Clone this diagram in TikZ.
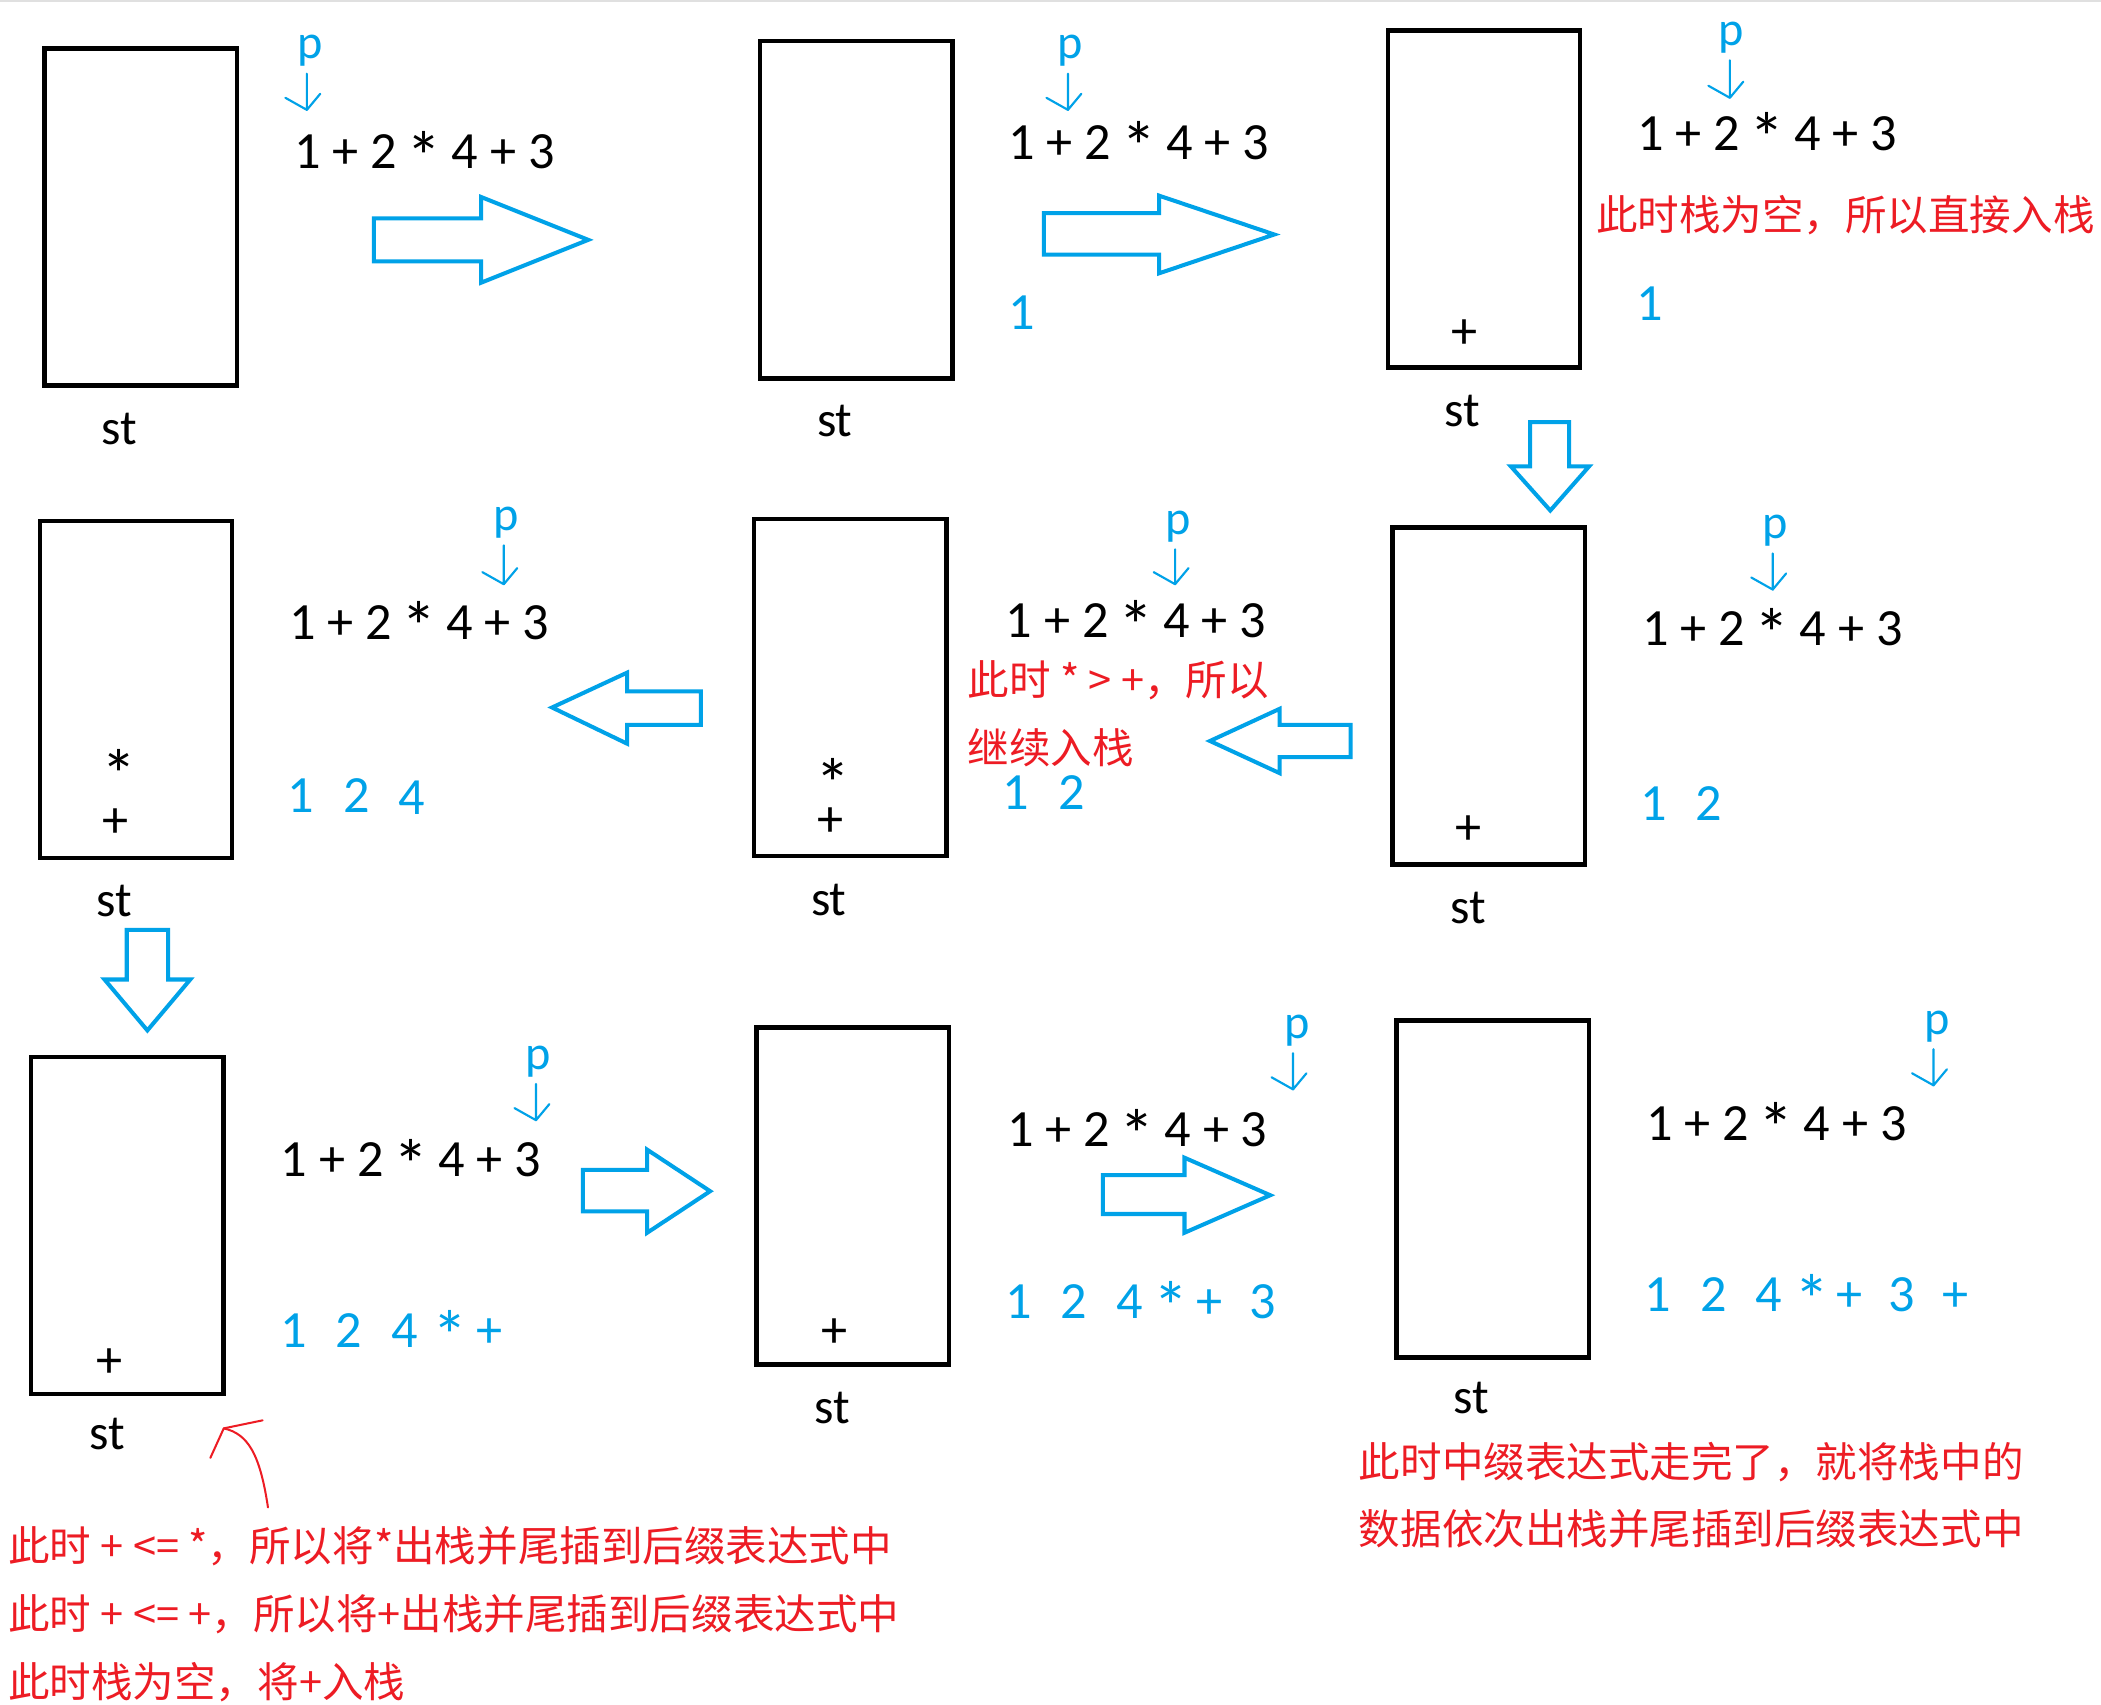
\documentclass[tikz,border=0pt]{standalone}
\usepackage{fontspec}
\usepackage{graphicx}
\setmainfont{Carlito}
\newfontfamily\cjk{Noto Sans CJK SC}
\usetikzlibrary{calc}
\definecolor{pblue}{RGB}{0,162,232}
\definecolor{pred}{RGB}{237,28,36}
\newcommand\bigast{\makebox[0.6em]{\raisebox{-0.24em}[0.66em][0pt]{\scalebox{1.35}{*}}}}
\tikzset{
  stackbox/.style={draw=black, line width=3.4pt, minimum width=143.6pt, minimum height=251.6pt, inner sep=0pt},
  expr/.style={anchor=base west, inner sep=0pt, font=\fontsize{39}{47}\selectfont},
  sym/.style={anchor=base, inner sep=0pt, font=\fontsize{39}{47}\selectfont},
  stlabel/.style={anchor=base, inner sep=0pt, font=\fontsize{37}{44}\selectfont},
  plabel/.style={anchor=base, inner sep=0pt, text=pblue, font=\fontsize{36}{43}\selectfont},
  outsym/.style={sym, text=pblue},
  note/.style={anchor=base west, inner sep=0pt, text=pred, font=\cjk\fontsize{31}{37}\selectfont},
  parrow/.style={draw=pblue, line width=1.6pt, line cap=round, line join=round},
  blockarrow/.style={draw=pblue, line width=3pt, line join=miter},
  redarrow/.style={draw=pred, line width=1.5pt, line cap=round, line join=round},
}
% horizontal block arrow: shaft end x, shaft top, shaft bottom, head base x, head top, head bottom, tip x, tip y
\newcommand\myHArrow[8]{\draw[blockarrow] (#1,#2) -- (#4,#2) -- (#4,#5) -- (#7,#8) -- (#4,#6) -- (#4,#3) -- (#1,#3) -- cycle;}
% vertical block arrow: shaft left x, shaft right x, shaft top, head y, head left x, head right x, tip x, tip y
\newcommand\myVArrow[8]{\draw[blockarrow] (#1,#3) -- (#2,#3) -- (#2,#4) -- (#6,#4) -- (#7,#8) -- (#5,#4) -- (#1,#4) -- cycle;}
\newcommand\myExpr{1 + 2 \bigast{} 4 + 3}
\begin{document}
\begin{tikzpicture}[x=1pt,y=-1pt]
\useasboundingbox[fill=white] (0,0) rectangle (1568,1272);
\draw[black!12, line width=1.5pt] (0,1) -- (1568,1);

% ---------- stacks ----------
\node[stackbox] (s1) at (105,162) {};
\node[stackbox] (s2) at (639,156.5) {};
\node[stackbox] (s3) at (1107.5,148.5) {};
\node[stackbox] (s4) at (101.5,514.5) {};
\node[stackbox] (s5) at (634.5,513) {};
\node[stackbox] (s6) at (1111,519.5) {};
\node[stackbox] (s7) at (95,914.5) {};
\node[stackbox] (s8) at (636.5,892.5) {};
\node[stackbox] (s9) at (1114,887.5) {};

% st labels
\node[stlabel] (l1) at (89,332) {st};
\node[stlabel] (l2) at (623,326) {st};
\node[stlabel] (l3) at (1091.5,318) {st};
\node[stlabel] (l4) at (85.5,684) {st};
\node[stlabel] (l5) at (618.5,683) {st};
\node[stlabel] (l6) at (1095.5,689) {st};
\node[stlabel] (l7) at (80,1082) {st};
\node[stlabel] (l8) at (621,1062) {st};
\node[stlabel] (l9) at (1098,1055) {st};

% stack contents
\node[sym] (c3a) at (1093,260) {+};
\node[sym] (c4b) at (88.5,587) {\bigast};
\node[sym] (c4a) at (86.5,625) {+};
\node[sym] (c5b) at (621.5,594) {\bigast};
\node[sym] (c5a) at (620,624) {+};
\node[sym] (c6a) at (1096,630) {+};
\node[sym] (c7a) at (82,1028) {+};
\node[sym] (c8a) at (623,1006) {+};

% ---------- expressions ----------
\node[expr] (e1) at (219.5,126) {\myExpr};
\node[expr] (e2) at (752.5,119) {\myExpr};
\node[expr] (e3) at (1221.5,112) {\myExpr};
\node[expr] (e4) at (215.5,477) {\myExpr};
\node[expr] (e5) at (750.5,476) {\myExpr};
\node[expr] (e6) at (1225.5,482) {\myExpr};
\node[expr] (e7) at (209.5,878) {\myExpr};
\node[expr] (e8) at (751.5,856) {\myExpr};
\node[expr] (e9) at (1228.5,851) {\myExpr};

% ---------- p pointers ----------
\foreach \i/\px/\pb/\tx/\ty in {1/231.5/44/229/82, 2/799/44/797/82, 3/1292/34/1291/73,
  4/377.5/396/376/436, 5/879/399/877/436, 6/1324.5/402/1323/440,
  7/402/798/400/836, 8/968/775/965/813, 9/1445.5/772/1443/810}{
  \node[plabel] (p\i) at (\px,\pb) {p};
  \coordinate (t\i) at (\tx,\ty);
  \draw[parrow] ($(p\i.south -| t\i)+(0,5)$) -- (t\i) -- ++(-16,-9) (t\i) -- ++(10,-12);
}

% ---------- postfix outputs ----------
\node[outsym] (o2a) at (762.5,246) {1};
\node[outsym] (o3a) at (1231,239) {1};
\foreach \x/\t [count=\k] in {224.5/1,266/2}{\node[outsym] (o4\k) at (\x,606) {\t};}
\node[outsym] (o43) at (307.5,608) {4};
\foreach \x/\t [count=\k] in {758/1,800/2}{\node[outsym] (o5\k) at (\x,604) {\t};}
\foreach \x/\t [count=\k] in {1234.5/1,1275.5/2}{\node[outsym] (o6\k) at (\x,612) {\t};}
\foreach \x/\t [count=\k] in {219.5/1,260/2,302/4,336/\bigast,365/+}{\node[outsym] (o7\k) at (\x,1006) {\t};}
\foreach \x/\t [count=\k] in {760.5/1,801/2,843/4,874/\bigast,903/+,942.5/3}{\node[outsym] (o8\k) at (\x,984) {\t};}
\foreach \x/\t [count=\k] in {1237.5/1,1279/2,1320/4,1352/\bigast,1380.5/+,1419.5/3,1459.5/+}{\node[outsym] (o9\k) at (\x,979) {\t};}

% ---------- red notes ----------
\node[note] (r3) at (1191,172) {此时栈为空，所以直接入栈};
\node[note] (r5a) at (722,519) {此时 * > +，所以};
\node[note] (r5b) at (722,570) {继续入栈};
\node[note] (r9a) at (1014,1103) {此时中缀表达式走完了，就将栈中的};
\node[note] (r9b) at (1014,1153) {数据依次出栈并尾插到后缀表达式中};
\node[note] (r7a) at (6,1165) {此时 + <= *，所以将*出栈并尾插到后缀表达式中};
\node[note] (r7b) at (6,1216) {此时 + <= +，所以将+出栈并尾插到后缀表达式中};
\node[note] (r7c) at (6,1267) {此时栈为空，将+入栈};

% red hand-drawn arrow
\coordinate (cstart) at (200,1125);
\coordinate (ctip) at (167,1066);
\draw[redarrow] (cstart) .. controls (194,1085) and (185,1070) .. (ctip);
\draw[redarrow] (157,1088) -- (ctip) -- (196,1060);

% ---------- block arrows ----------
\myHArrow{279}{163}{195}{359}{147}{211}{439}{179}
\myHArrow{779}{159}{190}{865}{146}{204}{951}{175}
\myVArrow{1142}{1171}{315}{348}{1127.5}{1186}{1157}{381}
\myHArrow{1008}{541}{565}{955}{529}{577}{903}{553}
\myHArrow{523}{516}{541}{468}{502}{555}{412}{528}
\myVArrow{94.6}{125.5}{694}{731}{78}{142}{110}{769}
\myHArrow{435}{873}{904}{483}{858}{920}{530}{889}
\myHArrow{823}{877}{906}{884}{864}{920}{948}{892}
\end{tikzpicture}
\end{document}
